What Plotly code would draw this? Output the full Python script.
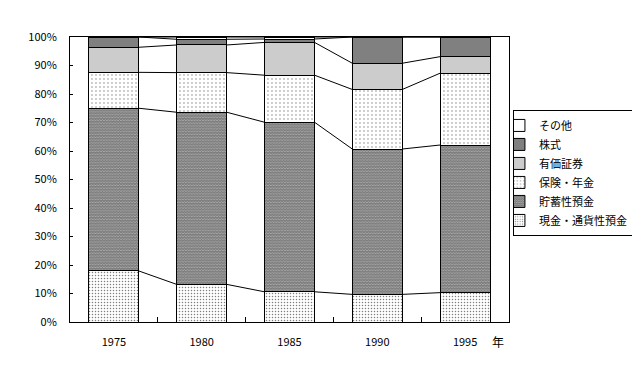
import plotly.graph_objects as go

years = ["1975", "1980", "1985", "1990", "1995"]
series_names = ["現金・通貨性預金", "貯蓄性預金", "保険・年金", "有価証券", "株式", "その他"]
cash = [17.9, 13.2, 10.6, 9.7, 10.3]
savings = [57.1, 60.4, 59.5, 51.0, 51.8]
insurance = [12.6, 13.9, 16.5, 20.9, 25.2]
securities = [8.8, 9.7, 11.5, 9.2, 5.8]
stocks = [3.6, 2.0, 1.2, 9.2, 6.9]
other = [0.0, 0.8, 0.7, 0.0, 0.0]

series_values = [cash, savings, insurance, securities, stocks, other]
styles = [
    dict(color="white", pattern=dict(shape=".", size=3, solidity=0.2, fgcolor="black", bgcolor="white")),
    dict(color="white", pattern=dict(shape="x", size=2, solidity=0.9, fgcolor="black", bgcolor="white")),
    dict(color="white", pattern=dict(shape=".", size=4, solidity=0.1, fgcolor="black", bgcolor="white")),
    dict(color="white", pattern=dict(shape=".", size=2, solidity=0.45, fgcolor="black", bgcolor="white")),
    dict(color="#808080"),
    dict(color="white"),
]

FONT = "Noto Sans CJK JP"
BAR_W = 0.57
idx = list(range(len(years)))

fig = go.Figure()
for name, vals, st in zip(series_names, series_values, styles):
    fig.add_trace(go.Bar(
        x=idx, y=vals, name=name, width=BAR_W,
        marker=dict(line=dict(color="black", width=1), **st),
    ))

# series lines connecting stacked tops of adjacent bars
cum = [0.0] * len(years)
for vals in series_values:
    cum = [c + v for c, v in zip(cum, vals)]
    xs, ys = [], []
    for i in range(len(years) - 1):
        xs += [i + BAR_W / 2, i + 1 - BAR_W / 2, None]
        ys += [cum[i], cum[i + 1], None]
    fig.add_trace(go.Scatter(x=xs, y=ys, mode="lines", line=dict(color="black", width=1),
                             showlegend=False, hoverinfo="skip"))

fig.add_annotation(text="年", xref="paper", yref="paper", x=0.975, y=-0.067,
                   showarrow=False, font=dict(family=FONT, size=12, color="black"),
                   xanchor="center", yanchor="middle")

fig.update_layout(
    width=632, height=357,
    barmode="stack",
    plot_bgcolor="white", paper_bgcolor="white",
    margin=dict(l=62, r=131, t=29, b=43, autoexpand=False),
    font=dict(family=FONT, size=11, color="black"),
    showlegend=True,
    legend=dict(
        traceorder="reversed",
        x=1.009, y=0.523, xanchor="left", yanchor="middle",
        bordercolor="black", borderwidth=1, bgcolor="white",
        font=dict(family=FONT, size=11, color="black"),
        indentation=-15, itemwidth=30, tracegroupgap=0,
    ),
    xaxis=dict(
        range=[-0.5, 4.5], tickmode="array", tickvals=idx, ticktext=years,
        ticks="", showline=True, mirror=True, linecolor="black", linewidth=1,
        showgrid=False, zeroline=False, ticklabelstandoff=10,
        minor=dict(tickmode="array", tickvals=[0.5, 1.5, 2.5, 3.5], ticks="inside",
                   ticklen=5, tickcolor="black", showgrid=False),
    ),
    yaxis=dict(
        range=[0, 100], dtick=10, ticksuffix="%", ticks="inside", ticklen=3,
        tickcolor="black", showline=True, mirror=True, linecolor="black", linewidth=1,
        showgrid=False, zeroline=False, ticklabelstandoff=10,
    ),
)

fig.write_html("out.html")
